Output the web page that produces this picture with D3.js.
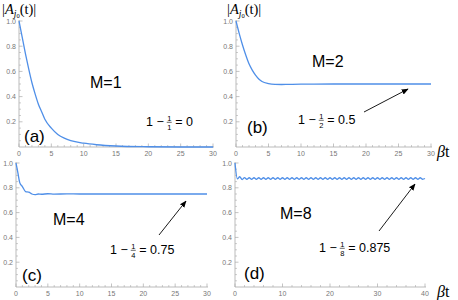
<!DOCTYPE html>
<html>
<head>
<meta charset="utf-8">
<script src="https://cdn.jsdelivr.net/npm/d3@7"></script>
<style>
  body { margin: 0; background: #fff; }
  svg { display: block; }
</style>
</head>
<body>
<svg id="chart" width="458" height="300"></svg>
<script>
// ---- data ----
const tA = [0, 0.5, 1, 1.5, 2, 2.5, 3, 3.5, 4, 5, 6, 7, 8, 10, 12, 15, 20, 25, 30];
const valsA = [1, 0.87, 0.74, 0.62, 0.51, 0.42, 0.34, 0.28, 0.22, 0.15, 0.1, 0.07, 0.05, 0.03, 0.018, 0.008, 0.002, 0, 0];

const tB = [0, 0.5, 1, 1.5, 2, 2.5, 3, 3.5, 4, 5, 6, 7, 8, 10, 15, 20, 30];
const valsB = [1, 0.9, 0.81, 0.73, 0.66, 0.61, 0.57, 0.54, 0.52, 0.503, 0.497, 0.496, 0.497, 0.499, 0.5, 0.5, 0.5];

const tC = [0, 0.3, 0.6, 1, 1.5, 2, 2.5, 3, 3.5, 4, 5, 6, 8, 10, 15, 20, 25, 30];
const valsC = [1, 0.92, 0.84, 0.81, 0.77, 0.765, 0.75, 0.745, 0.75, 0.748, 0.752, 0.749, 0.751, 0.75, 0.75, 0.75, 0.75, 0.75];

// M=8: sampled every 0.5 in t from 0 to 40
const valsD = [1, 0.872, 0.889, 0.867, 0.882, 0.869, 0.881, 0.869, 0.881, 0.869, 0.881, 0.869, 0.881, 0.869,
  0.881, 0.869, 0.881, 0.869, 0.881, 0.869, 0.881, 0.869, 0.881, 0.869, 0.881, 0.869, 0.881, 0.869,
  0.881, 0.869, 0.881, 0.869, 0.881, 0.869, 0.881, 0.869, 0.881, 0.869, 0.881, 0.869, 0.881, 0.869,
  0.881, 0.869, 0.881, 0.869, 0.881, 0.869, 0.881, 0.869, 0.881, 0.869, 0.881, 0.869, 0.881, 0.869,
  0.881, 0.869, 0.881, 0.869, 0.881, 0.869, 0.881, 0.869, 0.881, 0.869, 0.881, 0.869, 0.881, 0.869,
  0.881, 0.869, 0.881, 0.869, 0.881, 0.869, 0.881, 0.869, 0.881, 0.869, 0.875];
const tD = valsD.map((v, i) => i * 0.5);

const yTicks = [0.2, 0.4, 0.6, 0.8, 1.0];
const xTicks30 = [0, 5, 10, 15, 20, 25, 30];
const xTicks40 = [0, 10, 20, 30, 40];

const panels = [
  { t: tA, v: valsA, xMax: 30, xTicks: xTicks30, minorStep: 1, box: [19, 213, 147, 21],
    label: "(a)", labelPos: [24, 142], mText: "M=1", mPos: [90, 88],
    formula: ["1", "0"], fPos: [146, 126], arrow: null, yTitle: [2, 14], bt: null },
  { t: tB, v: valsB, xMax: 30, xTicks: xTicks30, minorStep: 1, box: [236, 431, 147, 21],
    label: "(b)", labelPos: [247, 133], mText: "M=2", mPos: [312, 67],
    formula: ["2", "0.5"], fPos: [298, 124], arrow: [364, 112, 408, 89], yTitle: [227, 14], bt: [437, 157] },
  { t: tC, v: valsC, xMax: 30, xTicks: xTicks30, minorStep: 1, box: [16, 207, 287, 163],
    label: "(c)", labelPos: [22, 281], mText: "M=4", mPos: [53, 225],
    formula: ["4", "0.75"], fPos: [110, 254], arrow: [159, 235, 186, 201], yTitle: null, bt: null },
  { t: tD, v: valsD, xMax: 40, xTicks: xTicks40, minorStep: 2, box: [235, 425, 287, 163],
    label: "(d)", labelPos: [244, 279], mText: "M=8", mPos: [280, 219],
    formula: ["8", "0.875"], fPos: [319, 252], arrow: [379, 231, 415, 184], yTitle: null, bt: [437, 297] }
];

const svg = d3.select("#chart");
const axisColor = "#aaaaaa";
const tickText = "#777777";
const lineColor = "#4f8fe8";

svg.append("defs").append("marker")
  .attr("id", "arr")
  .attr("viewBox", "0 0 10 10")
  .attr("refX", 9).attr("refY", 5)
  .attr("markerWidth", 7).attr("markerHeight", 7)
  .attr("markerUnits", "userSpaceOnUse")
  .attr("orient", "auto")
  .append("path").attr("d", "M0,1 L10,5 L0,9 Z").attr("fill", "#000");

panels.forEach(p => {
  const [x0, x1, y0, y1] = p.box;
  const x = d3.scaleLinear().domain([0, p.xMax]).range([x0, x1]);
  const y = d3.scaleLinear().domain([0, 1]).range([y0, y1]);
  const g = svg.append("g");

  // x axis
  const minor = d3.range(0, p.xMax + 0.001, p.minorStep).filter(d => !p.xTicks.includes(d));
  g.append("line").attr("x1", x0).attr("x2", x1 + 1).attr("y1", y0).attr("y2", y0)
    .attr("stroke", axisColor).attr("stroke-width", 0.8);
  g.selectAll(".xmaj").data(p.xTicks).join("line")
    .attr("x1", d => x(d)).attr("x2", d => x(d)).attr("y1", y0).attr("y2", y0 - 3.5)
    .attr("stroke", axisColor).attr("stroke-width", 0.7);
  g.selectAll(".xmin").data(minor).join("line")
    .attr("x1", d => x(d)).attr("x2", d => x(d)).attr("y1", y0).attr("y2", y0 - 2)
    .attr("stroke", axisColor).attr("stroke-width", 0.6);
  g.selectAll(".xlab").data(p.xTicks).join("text")
    .attr("x", d => x(d)).attr("y", y0 + 9)
    .attr("text-anchor", "middle")
    .attr("font-family", "Liberation Sans, Arial, sans-serif")
    .attr("font-size", 7).attr("fill", tickText)
    .text(d => d);

  // y axis
  const yMinor = d3.range(0.05, 1.0, 0.05).filter(d => Math.abs(d * 5 - Math.round(d * 5)) > 0.01);
  g.append("line").attr("x1", x0).attr("x2", x0).attr("y1", y0).attr("y2", y(1.0) - 1)
    .attr("stroke", axisColor).attr("stroke-width", 0.8);
  g.selectAll(".ymaj").data(yTicks).join("line")
    .attr("x1", x0).attr("x2", x0 + 3.5).attr("y1", d => y(d)).attr("y2", d => y(d))
    .attr("stroke", axisColor).attr("stroke-width", 0.7);
  g.selectAll(".ymin").data(yMinor).join("line")
    .attr("x1", x0).attr("x2", x0 + 2).attr("y1", d => y(d)).attr("y2", d => y(d))
    .attr("stroke", axisColor).attr("stroke-width", 0.6);
  g.selectAll(".ylab").data(yTicks).join("text")
    .attr("x", x0 - 3).attr("y", d => y(d) + 2.5)
    .attr("text-anchor", "end")
    .attr("font-family", "Liberation Sans, Arial, sans-serif")
    .attr("font-size", 7).attr("fill", tickText)
    .text(d => d.toFixed(1));

  // curve
  const line = d3.line().x((d, i) => x(p.t[i])).y(d => y(d)).curve(d3.curveMonotoneX);
  g.append("path").datum(p.v).attr("d", line)
    .attr("fill", "none").attr("stroke", lineColor).attr("stroke-width", 1.3);

  // labels
  g.append("text").attr("x", p.labelPos[0]).attr("y", p.labelPos[1])
    .attr("font-family", "Liberation Sans, Arial, sans-serif").attr("font-size", 17)
    .text(p.label);
  g.append("text").attr("x", p.mPos[0]).attr("y", p.mPos[1])
    .attr("font-family", "Liberation Sans, Arial, sans-serif").attr("font-size", 16)
    .text(p.mText);

  // formula 1 - 1/M = value
  const fs = 12.5;
  const fg = g.append("g").attr("font-family", "Liberation Sans, Arial, sans-serif");
  const t1 = fg.append("text").attr("x", p.fPos[0]).attr("y", p.fPos[1]).attr("font-size", fs).text("1 \u2212");
  const w1 = t1.node().getComputedTextLength();
  const fx = p.fPos[0] + w1 + 5.5;
  fg.append("text").attr("x", fx).attr("y", p.fPos[1] - 5).attr("text-anchor", "middle")
    .attr("font-size", 7.5).text("1");
  fg.append("line").attr("x1", fx - 2.5).attr("x2", fx + 2.5)
    .attr("y1", p.fPos[1] - 3.7).attr("y2", p.fPos[1] - 3.7)
    .attr("stroke", "#000").attr("stroke-width", 0.6);
  fg.append("text").attr("x", fx).attr("y", p.fPos[1] + 3.5).attr("text-anchor", "middle")
    .attr("font-size", 7.5).text(p.formula[0]);
  fg.append("text").attr("x", fx + 6).attr("y", p.fPos[1]).attr("font-size", fs)
    .text("= " + p.formula[1]);

  if (p.arrow) {
    g.append("line").attr("x1", p.arrow[0]).attr("y1", p.arrow[1])
      .attr("x2", p.arrow[2]).attr("y2", p.arrow[3])
      .attr("stroke", "#000").attr("stroke-width", 0.9)
      .attr("marker-end", "url(#arr)");
  }

  if (p.yTitle) {
    const tt = g.append("text").attr("x", p.yTitle[0]).attr("y", p.yTitle[1])
      .attr("font-family", "Liberation Serif, Times New Roman, serif").attr("font-size", 14.5);
    tt.append("tspan").text("|");
    tt.append("tspan").attr("font-style", "italic").text("A");
    tt.append("tspan").attr("font-style", "italic").attr("font-size", 9.5).attr("dy", 2.5).text("j");
    tt.append("tspan").attr("font-size", 6.5).attr("dy", 1.5).text("0");
    tt.append("tspan").attr("dy", -4).text("(t)|");
  }

  if (p.bt) {
    const bt = g.append("text").attr("x", p.bt[0]).attr("y", p.bt[1])
      .attr("font-family", "Liberation Serif, Times New Roman, serif").attr("font-size", 16);
    bt.append("tspan").attr("font-style", "italic").text("\u03b2");
    bt.append("tspan").text("t");
  }
});
</script>
</body>
</html>
